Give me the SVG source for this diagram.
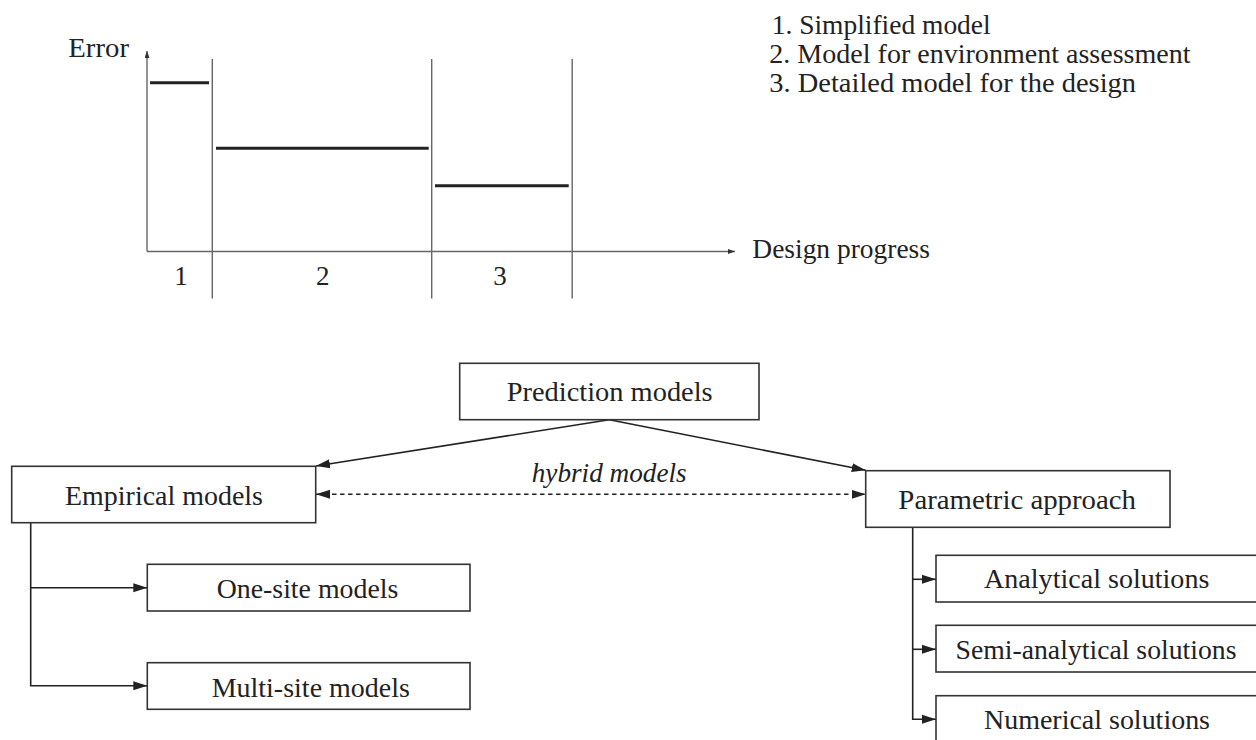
<svg xmlns="http://www.w3.org/2000/svg" width="1256" height="740" viewBox="0 0 1256 740">
<style>
  text { font-family: "Liberation Serif", serif; font-size: 27px; fill: #222; }
  .c { text-anchor: middle; }
  .it { font-style: italic; }
  .box { fill: #fff; stroke: #333; stroke-width: 1.6; }
  .ax { stroke: #666; stroke-width: 1.4; fill: none; }
  .lvl { stroke: #222; stroke-width: 3; fill: none; }
  .con { stroke: #222; stroke-width: 1.6; fill: none; }
  .dash { stroke-dasharray: 4.5 3.5; }
</style>
<defs>
  <marker id="ah" markerUnits="userSpaceOnUse" markerWidth="15" markerHeight="10" refX="14" refY="5" orient="auto-start-reverse">
    <path d="M0,0.5 L14,5 L0,9.5 z" fill="#222"/>
  </marker>
  <marker id="sa" markerUnits="userSpaceOnUse" markerWidth="8" markerHeight="6" refX="7" refY="2.5" orient="auto">
    <path d="M0,0 L7,2.5 L0,5 z" fill="#333"/>
  </marker>
</defs>
<rect width="1256" height="740" fill="#fff"/>

<g id="chart">
  <line class="ax" x1="147" y1="251.5" x2="147" y2="51" marker-end="url(#sa)"/>
  <line class="ax" x1="147" y1="251.5" x2="735" y2="251.5" marker-end="url(#sa)"/>
  <line class="ax" x1="212.3" y1="59" x2="212.3" y2="298.5"/>
  <line class="ax" x1="431.7" y1="59" x2="431.7" y2="298.5"/>
  <line class="ax" x1="572.2" y1="59" x2="572.2" y2="298.5"/>
  <line class="lvl" x1="150" y1="82.7" x2="209" y2="82.7"/>
  <line class="lvl" x1="216" y1="148.3" x2="428.7" y2="148.3"/>
  <line class="lvl" x1="435" y1="185.7" x2="568.7" y2="185.7"/>
  <text x="68.3" y="56.7" textLength="60.7" lengthAdjust="spacingAndGlyphs">Error</text>
  <text x="752.3" y="258.3" textLength="177.7" lengthAdjust="spacingAndGlyphs">Design progress</text>
  <text class="c" x="181" y="285">1</text>
  <text class="c" x="322.7" y="285">2</text>
  <text class="c" x="500" y="285">3</text>
</g>

<g id="legend">
  <text x="771.7" y="34" textLength="219" lengthAdjust="spacingAndGlyphs">1. Simplified model</text>
  <text x="769.3" y="62.8" textLength="421.3" lengthAdjust="spacingAndGlyphs">2. Model for environment assessment</text>
  <text x="769.3" y="91.5" textLength="366.7" lengthAdjust="spacingAndGlyphs">3. Detailed model for the design</text>
</g>

<g id="connectors">
  <line class="con" x1="609.3" y1="419.7" x2="316" y2="466" marker-end="url(#ah)"/>
  <line class="con" x1="609.3" y1="419.7" x2="865.7" y2="470.3" marker-end="url(#ah)"/>
  <line class="con dash" x1="316" y1="494.3" x2="865.7" y2="494.3" marker-start="url(#ah)" marker-end="url(#ah)"/>
  <polyline class="con" points="30.7,522.7 30.7,685.8 147.3,685.8" marker-end="url(#ah)"/>
  <line class="con" x1="30.7" y1="587.7" x2="147.3" y2="587.7" marker-end="url(#ah)"/>
  <polyline class="con" points="912.7,527.3 912.7,719.3 936,719.3" marker-end="url(#ah)"/>
  <line class="con" x1="912.7" y1="579.3" x2="936" y2="579.3" marker-end="url(#ah)"/>
  <line class="con" x1="912.7" y1="649.3" x2="936" y2="649.3" marker-end="url(#ah)"/>
  <text class="c it" x="609.2" y="481.7" textLength="155" lengthAdjust="spacingAndGlyphs">hybrid models</text>
</g>

<g id="prediction">
  <rect class="box" x="459.7" y="363.3" width="299.3" height="56.4"/>
  <text class="c" x="609.7" y="400.7" textLength="206" lengthAdjust="spacingAndGlyphs">Prediction models</text>
</g>
<g id="empirical">
  <rect class="box" x="11.7" y="466.3" width="304" height="56.4"/>
  <text class="c" x="164" y="505" textLength="198" lengthAdjust="spacingAndGlyphs">Empirical models</text>
</g>
<g id="parametric">
  <rect class="box" x="865.7" y="470.7" width="304.3" height="56.6"/>
  <text class="c" x="1017.2" y="509.3" textLength="237.7" lengthAdjust="spacingAndGlyphs">Parametric approach</text>
</g>
<g id="onesite">
  <rect class="box" x="147.3" y="564.3" width="322.7" height="46.7"/>
  <text class="c" x="307.5" y="598.3" textLength="181.7" lengthAdjust="spacingAndGlyphs">One-site models</text>
</g>
<g id="multisite">
  <rect class="box" x="147.3" y="662.7" width="322.7" height="46.6"/>
  <text class="c" x="310.8" y="696.7" textLength="198.3" lengthAdjust="spacingAndGlyphs">Multi-site models</text>
</g>
<g id="analytical">
  <rect class="box" x="936" y="555.3" width="322.7" height="46.7"/>
  <text class="c" x="1096.7" y="588" textLength="225.3" lengthAdjust="spacingAndGlyphs">Analytical solutions</text>
</g>
<g id="semianalytical">
  <rect class="box" x="936" y="625.3" width="322.7" height="46.7"/>
  <text class="c" x="1096" y="658.5" textLength="281" lengthAdjust="spacingAndGlyphs">Semi-analytical solutions</text>
</g>
<g id="numerical">
  <rect class="box" x="936" y="695.7" width="322.7" height="46.7"/>
  <text class="c" x="1097" y="728.5" textLength="226" lengthAdjust="spacingAndGlyphs">Numerical solutions</text>
</g>
</svg>
